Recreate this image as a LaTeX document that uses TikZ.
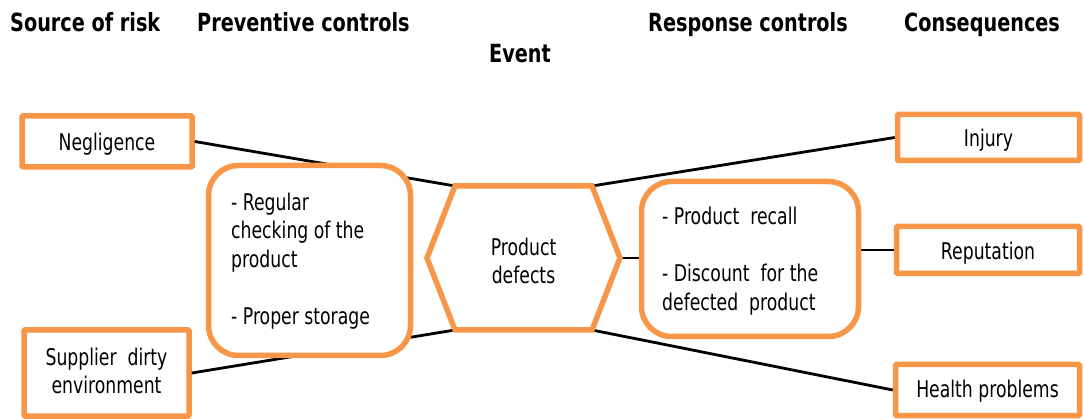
\documentclass[tikz,border=0pt]{standalone}
\usepackage{fontspec}
\setmainfont[FakeStretch=0.75]{DejaVu Sans}
\newfontfamily\hdrfont[FakeStretch=0.77]{DejaVu Sans}
\definecolor{boxorange}{HTML}{F79646}
\begin{document}
\begin{tikzpicture}[x=1pt,y=-1pt,
  hdr/.style={font=\hdrfont\fontsize{25}{30}\selectfont\bfseries, inner sep=0pt, anchor=base west},
  txt/.style={font=\fontsize{23}{28.5}\selectfont, inner sep=0pt},
  sqbox/.style={draw=boxorange, line width=5.5pt, rounded corners=1pt, fill=white},
  rbox/.style={draw=boxorange, line width=5.5pt, rounded corners=30pt, fill=white},
  link/.style={draw=black, line width=2.8pt}]
\useasboundingbox (0,0) rectangle (1084,419);
% headers
\node[hdr] (h1) at (10,32) {Source of risk};
\node[hdr] (h2) at (197,32) {Preventive controls};
\node[hdr] (h3) at (648,32) {Response controls};
\node[hdr] (h4) at (904,32) {Consequences};
\node[hdr] (h5) at (489,63) {Event};
% hexagon vertices
\coordinate (hl) at (427,258);
\coordinate (htl) at (455,186);
\coordinate (htr) at (592,186);
\coordinate (hr) at (620,258);
\coordinate (hbr) at (592,330);
\coordinate (hbl) at (455,330);
% consequence / source boxes
\node[sqbox, minimum width=170pt, minimum height=51pt] (neg) at (107,141.5) {};
\node[sqbox, minimum width=165pt, minimum height=86pt] (sup) at (106.5,373) {};
\node[sqbox, minimum width=182pt, minimum height=46pt] (inj) at (988.5,137.5) {};
\node[sqbox, minimum width=183pt, minimum height=47pt] (rep) at (988,250) {};
\node[sqbox, minimum width=184pt, minimum height=51pt] (hea) at (987.5,390) {};
% connectors (behind control boxes)
\draw[link] (neg.east) -- (htl);
\draw[link] (sup.east) -- (hbl);
\draw[link] (htr) -- (inj.west);
\draw[link] (hbr) -- (hea.west);
\draw[link] (hr) -- (hr -| 641.5,0);
\draw[link] (rep.west -| 858.5,0) -- (rep.west);
% control boxes
\node[rbox, minimum width=202pt, minimum height=190pt] (prev) at (309.5,260.5) {};
\node[rbox, minimum width=217pt, minimum height=155pt] (resp) at (750,259) {};
% hexagon
\draw[draw=boxorange, line width=5.5pt, fill=white, line join=miter] (hl) -- (htl) -- (htr) -- (hr) -- (hbr) -- (hbl) -- cycle;
% texts
\node[txt] (tneg) at ([yshift=-2.5pt]neg.center) {Negligence};
\node[txt, align=center] (tsup) at (106.5,371) {Supplier\ \ dirty\\environment};
\node[txt] (tinj) at ([yshift=-3pt]inj.center) {Injury};
\node[txt] (trep) at ([yshift=-3pt]rep.center) {Reputation};
\node[txt] (thea) at ([yshift=-1pt]hea.center) {Health problems};
\node[txt, align=center] (tev) at (523.5,261) {Product\\defects};
\node[txt, align=left, anchor=west] (tprev) at (231,261) {- Regular\\checking of the\\product\\[28.5pt]- Proper storage};
\node[txt, align=left, anchor=west] (tresp) at (662,261) {- Product\ \ recall\\[28.5pt]- Discount\ \ for the\\defected\ \ product};
\end{tikzpicture}
\end{document}
